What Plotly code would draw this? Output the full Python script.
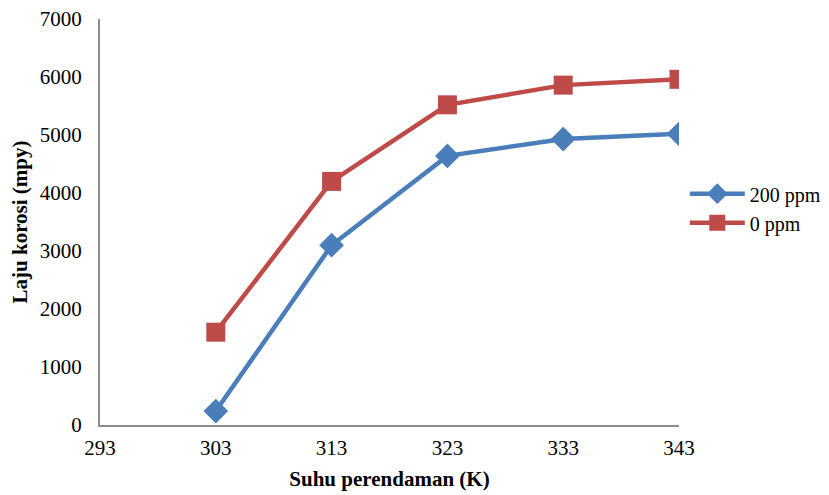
import plotly.graph_objects as go

suhu = [303, 313, 323, 333, 343]
ppm200 = [240, 3100, 4640, 4930, 5020]
ppm0 = [1600, 4200, 5520, 5860, 5960]
x_ticks = [293, 303, 313, 323, 333, 343]
y_ticks = [0, 1000, 2000, 3000, 4000, 5000, 6000, 7000]

fig = go.Figure()
fig.add_trace(go.Scatter(x=suhu, y=ppm200, name="200 ppm", mode="lines+markers",
                         line=dict(color="#4a7ebb", width=4.5),
                         marker=dict(symbol="diamond", size=19, color="#4a7ebb")))
fig.add_trace(go.Scatter(x=suhu, y=ppm0, name="0 ppm", mode="lines+markers",
                         line=dict(color="#be4b48", width=4.5),
                         marker=dict(symbol="square", size=19, color="#be4b48")))

font = "Liberation Serif, Times New Roman, serif"
fig.update_layout(
    width=821, height=489,
    margin=dict(l=92, r=150, t=11, b=72, autoexpand=False),
    paper_bgcolor="white", plot_bgcolor="white",
    font=dict(family=font, size=21, color="black"),
    legend=dict(x=1.01, y=0.534, xanchor="left", yanchor="middle",
                font=dict(family=font, size=20), itemwidth=55, tracegroupgap=0,
                bgcolor="rgba(0,0,0,0)"),
    showlegend=True,
)
fig.update_xaxes(range=[293, 343], tickvals=x_ticks, showgrid=False, zeroline=False,
                 showline=True, linecolor="#8c8c8c", linewidth=2, ticks="",
                 automargin=False, ticklabelstandoff=3, ticklabeloverflow="allow",
                 title=dict(text="<b>Suhu perendaman (K)</b>", font=dict(family=font, size=21), standoff=12))
fig.update_yaxes(range=[0, 7000], tickvals=y_ticks, showgrid=False, zeroline=False,
                 showline=True, linecolor="#8c8c8c", linewidth=2, ticks="",
                 automargin=False, ticklabelstandoff=12, ticklabeloverflow="allow",
                 title=dict(text="<b>Laju korosi (mpy)</b>", font=dict(family=font, size=21), standoff=6))

fig.write_html("out.html")
